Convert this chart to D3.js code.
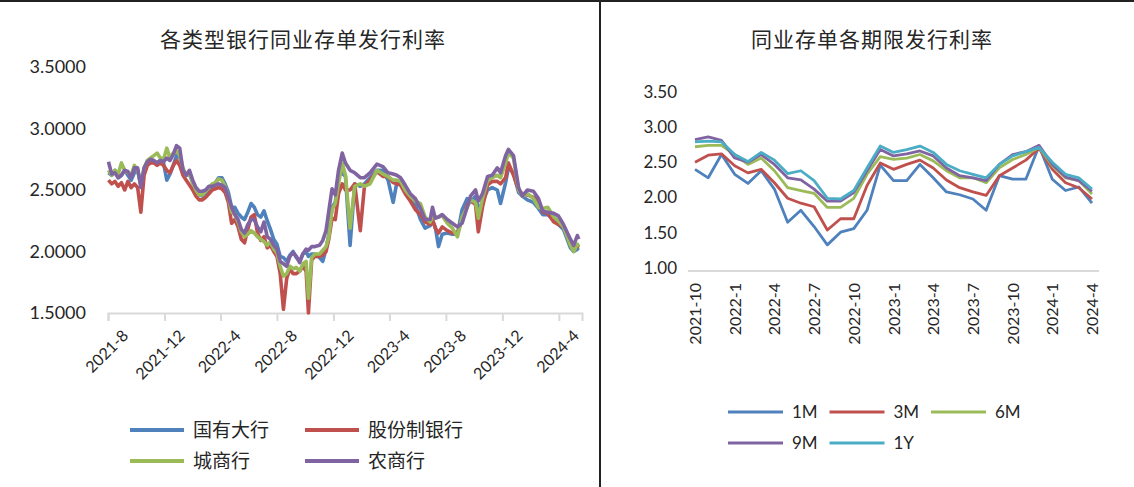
<!DOCTYPE html>
<html>
<head>
<meta charset="utf-8">
<script src="https://cdn.jsdelivr.net/npm/d3@7"></script>
<style>
  body { margin: 0; background: #fff; }
  svg text { font-family: Lato, "Noto Sans CJK SC", sans-serif; fill: #262626; }
  .cjk { font-family: "Noto Sans CJK SC", sans-serif; }
</style>
</head>
<body>
<div id="chart"></div>
<script>
// ---- left panel: issue rates by bank type ----
const bankDates = [
  "2021-08-02","2021-08-09","2021-08-16","2021-08-23","2021-08-30","2021-09-06","2021-09-13","2021-09-20","2021-09-27",
  "2021-10-04","2021-10-11","2021-10-18","2021-10-25","2021-11-01","2021-11-08","2021-11-15","2021-11-22","2021-11-29",
  "2021-12-06","2021-12-13","2021-12-20","2021-12-27","2022-01-03","2022-01-10","2022-01-17","2022-01-24","2022-01-31",
  "2022-02-07","2022-02-14","2022-02-21","2022-02-28","2022-03-07","2022-03-14","2022-03-21","2022-03-28","2022-04-04",
  "2022-04-11","2022-04-18","2022-04-25","2022-05-02","2022-05-09","2022-05-16","2022-05-23","2022-05-30","2022-06-06",
  "2022-06-13","2022-06-20","2022-06-27","2022-07-04","2022-07-11","2022-07-18","2022-07-25","2022-08-01","2022-08-08",
  "2022-08-15","2022-08-22","2022-08-29","2022-09-05","2022-09-12","2022-09-19","2022-09-26","2022-10-03","2022-10-08",
  "2022-10-15","2022-10-22","2022-11-01","2022-11-08","2022-11-15","2022-11-21","2022-11-28","2022-12-05","2022-12-12",
  "2022-12-20","2022-12-27","2023-01-06","2023-01-16","2023-01-28","2023-02-06","2023-02-18","2023-03-05","2023-03-18",
  "2023-03-29","2023-04-09","2023-04-17","2023-04-25","2023-05-05","2023-05-16","2023-05-27","2023-06-07","2023-06-17",
  "2023-06-28","2023-07-03","2023-07-09","2023-07-16","2023-07-24","2023-08-04","2023-08-15","2023-08-26","2023-09-05",
  "2023-09-16","2023-09-23","2023-10-04","2023-10-10","2023-10-19","2023-10-30","2023-11-09","2023-11-20","2023-11-27",
  "2023-12-08","2023-12-14","2023-12-25","2024-01-05","2024-01-13","2024-01-24","2024-02-06","2024-02-17","2024-02-26",
  "2024-03-08","2024-03-21","2024-03-31","2024-04-11","2024-04-26","2024-05-03","2024-05-11","2024-05-14"
];
const bigBank = [
  2.64,2.62,2.66,2.60,2.62,2.66,2.62,2.58,2.64, 2.66,2.54,2.66,2.72,2.74,2.73,2.72,2.74,2.72,
  2.58,2.63,2.70,2.78,2.76,2.66,2.62,2.63,2.56, 2.50,2.46,2.45,2.47,2.50,2.52,2.56,2.60,2.60,
  2.55,2.48,2.36,2.36,2.31,2.28,2.26,2.32,2.39, 2.36,2.30,2.28,2.33,2.25,2.18,2.10,2.06,1.96,
  1.95,1.92,1.97,2.00,1.95,1.92,1.98,2.00,1.96, 1.98,1.98,1.95,1.92,2.02,2.14,2.36,2.40,2.61,
  2.64,2.61,2.05,2.55,2.53,2.55,2.60,2.66,2.66, 2.58,2.40,2.56,2.55,2.50,2.43,2.38,2.26,2.19,
  2.21,2.25,2.20,2.04,2.14,2.15,2.14,2.14,2.34, 2.43,2.40,2.45,2.34,2.40,2.50,2.52,2.50,2.39,
  2.56,2.68,2.64,2.48,2.45,2.42,2.40,2.35,2.30, 2.30,2.26,2.22,2.18,2.03,2.00,2.02,2.01
];
const jointStock = [
  2.58,2.55,2.57,2.53,2.56,2.50,2.57,2.52,2.55, 2.52,2.32,2.62,2.70,2.72,2.72,2.70,2.72,2.70,
  2.66,2.64,2.70,2.74,2.70,2.62,2.58,2.54,2.50, 2.45,2.42,2.42,2.44,2.47,2.50,2.51,2.52,2.51,
  2.48,2.40,2.23,2.26,2.20,2.10,2.07,2.18,2.28, 2.30,2.15,2.09,2.12,2.03,2.05,2.00,1.96,1.82,
  1.53,1.78,1.86,1.82,1.82,1.84,1.88,1.84,1.50, 1.93,1.96,1.96,1.97,2.00,2.10,2.27,2.26,2.47,
  2.55,2.50,2.50,2.55,2.17,2.53,2.58,2.65,2.61, 2.61,2.56,2.55,2.54,2.47,2.41,2.34,2.30,2.24,
  2.22,2.26,2.19,2.15,2.20,2.17,2.15,2.15,2.26, 2.38,2.42,2.38,2.16,2.36,2.54,2.57,2.57,2.55,
  2.60,2.72,2.62,2.50,2.47,2.46,2.44,2.40,2.32, 2.31,2.24,2.22,2.20,2.06,2.02,2.04,2.05
];
const cityBank = [
  2.66,2.62,2.66,2.63,2.72,2.66,2.64,2.62,2.70, 2.66,2.55,2.68,2.74,2.76,2.78,2.80,2.76,2.75,
  2.84,2.76,2.80,2.82,2.78,2.68,2.62,2.64,2.56, 2.50,2.46,2.46,2.49,2.52,2.55,2.56,2.59,2.58,
  2.53,2.44,2.32,2.30,2.24,2.16,2.12,2.14,2.17, 2.15,2.12,2.10,2.08,2.05,2.08,2.02,1.99,1.88,
  1.80,1.82,1.88,1.86,1.87,1.84,1.90,1.92,1.62, 1.95,1.98,1.98,2.01,2.04,2.12,2.34,2.39,2.55,
  2.72,2.62,2.19,2.53,2.55,2.53,2.55,2.66,2.63, 2.61,2.58,2.58,2.57,2.50,2.45,2.41,2.39,2.28,
  2.24,2.28,2.28,2.28,2.29,2.23,2.19,2.12,2.28, 2.36,2.42,2.40,2.27,2.43,2.58,2.60,2.62,2.60,
  2.72,2.80,2.76,2.50,2.45,2.47,2.43,2.36,2.35, 2.36,2.28,2.25,2.20,2.05,2.00,2.06,2.04
];
const ruralBank = [
  2.73,2.63,2.64,2.60,2.62,2.66,2.65,2.60,2.68, 2.68,2.52,2.68,2.73,2.75,2.74,2.72,2.74,2.73,
  2.76,2.74,2.79,2.86,2.84,2.66,2.62,2.66,2.58, 2.52,2.49,2.49,2.50,2.53,2.53,2.54,2.55,2.54,
  2.52,2.44,2.36,2.30,2.26,2.18,2.15,2.22,2.26, 2.26,2.20,2.16,2.24,2.12,2.10,2.05,2.02,1.92,
  1.90,1.88,1.96,1.99,1.96,1.91,1.98,2.02,2.01, 2.04,2.04,2.05,2.09,2.17,2.33,2.51,2.46,2.66,
  2.80,2.72,2.66,2.64,2.60,2.60,2.64,2.71,2.69, 2.64,2.63,2.62,2.60,2.54,2.47,2.43,2.35,2.26,
  2.26,2.36,2.27,2.28,2.30,2.26,2.23,2.20,2.23, 2.36,2.45,2.50,2.41,2.47,2.61,2.62,2.68,2.64,
  2.78,2.83,2.78,2.52,2.45,2.50,2.49,2.43,2.33, 2.32,2.31,2.29,2.22,2.10,2.05,2.13,2.10
];
const bankNames = ["国有大行", "股份制银行", "城商行", "农商行"];
const leftTicks = ["2021-8","2021-12","2022-4","2022-8","2022-12","2023-4","2023-8","2023-12","2024-4"];
const leftYTicks = [1.5, 2.0, 2.5, 3.0, 3.5];

// ---- right panel: issue rates by term ----
const termMonths = [
  "2021-10","2021-11","2021-12","2022-1","2022-2","2022-3","2022-4","2022-5","2022-6","2022-7","2022-8",
  "2022-9","2022-10","2022-11","2022-12","2023-1","2023-2","2023-3","2023-4","2023-5","2023-6","2023-7",
  "2023-8","2023-9","2023-10","2023-11","2023-12","2024-1","2024-2","2024-3","2024-4"
];
const rate1M = [2.44,2.32,2.65,2.37,2.24,2.42,2.16,1.69,1.86,1.63,1.37,1.55,1.60,1.86,2.50,2.28,2.28,2.51,2.32,2.12,2.08,2.02,1.86,2.35,2.30,2.30,2.77,2.30,2.14,2.19,1.96];
const rate3M = [2.54,2.64,2.66,2.49,2.39,2.44,2.25,2.03,1.96,1.91,1.58,1.74,1.74,2.21,2.53,2.44,2.51,2.57,2.46,2.29,2.18,2.12,2.07,2.35,2.46,2.57,2.74,2.44,2.25,2.18,2.02];
const rate6M = [2.76,2.78,2.78,2.65,2.51,2.60,2.42,2.18,2.14,2.10,1.90,1.90,2.03,2.37,2.62,2.58,2.60,2.65,2.56,2.42,2.32,2.32,2.25,2.46,2.58,2.65,2.75,2.49,2.32,2.28,2.09];
const rate9M = [2.86,2.90,2.85,2.60,2.54,2.65,2.51,2.32,2.29,2.16,1.99,1.99,2.11,2.42,2.72,2.63,2.66,2.70,2.63,2.46,2.35,2.32,2.28,2.51,2.65,2.69,2.78,2.51,2.33,2.28,2.13];
const rate1Y = [2.83,2.84,2.83,2.65,2.55,2.68,2.57,2.38,2.42,2.28,2.03,2.02,2.14,2.46,2.77,2.68,2.72,2.77,2.68,2.51,2.42,2.37,2.32,2.51,2.63,2.69,2.75,2.54,2.37,2.32,2.16];
const termNames = ["1M", "3M", "6M", "9M", "1Y"];
const rightTicks = ["2021-10","2022-1","2022-4","2022-7","2022-10","2023-1","2023-4","2023-7","2023-10","2024-1","2024-4"];
const rightYTicks = [1.0, 1.5, 2.0, 2.5, 3.0, 3.5];

const colors = ["#4f81bd", "#c0504d", "#9bbb59", "#8064a2", "#4bacc6"];
const W = 1134, H = 487;

const svg = d3.select("#chart").append("svg")
  .attr("width", W)
  .attr("height", H);

// frame lines
svg.append("line").attr("x1", 0).attr("x2", W).attr("y1", 1).attr("y2", 1)
  .attr("stroke", "#222").attr("stroke-width", 2);
svg.append("line").attr("x1", 600).attr("x2", 600).attr("y1", 0).attr("y2", H)
  .attr("stroke", "#222").attr("stroke-width", 2);

// ===== left chart =====
const parse = d3.timeParse("%Y-%m-%d");
const parseMonth = d3.timeParse("%Y-%m");
const dates = bankDates.map(parse);

const xL = d3.scaleTime()
  .domain([new Date(2021, 7, 1), new Date(2024, 4, 21)])
  .range([108, 582]);
const yL = d3.scaleLinear().domain([1.5, 3.5]).range([313, 67]);

svg.append("text")
  .attr("class", "cjk")
  .attr("x", 303).attr("y", 47)
  .attr("text-anchor", "middle")
  .style("font-size", "21px")
  .style("letter-spacing", "1px")
  .text("各类型银行同业存单发行利率");

// y labels (no axis line)
svg.append("g").selectAll("text")
  .data(leftYTicks)
  .enter().append("text")
  .attr("x", 86)
  .attr("y", d => yL(d) + 6)
  .attr("text-anchor", "end")
  .style("font-size", "18px")
  .text(d => d.toFixed(4));

// x axis
const xAxisL = svg.append("g")
  .attr("transform", "translate(0,313)")
  .call(d3.axisBottom(xL)
    .tickValues(leftTicks.map(parseMonth))
    .tickSize(8)
    .tickFormat(d3.timeFormat("%Y-%-m")));
xAxisL.select(".domain").attr("stroke", "#d9d9d9").attr("stroke-width", 2);
xAxisL.selectAll(".tick line").attr("stroke", "#d9d9d9").attr("stroke-width", 2);
xAxisL.selectAll("text")
  .attr("transform", "translate(5,8)rotate(-45)")
  .style("text-anchor", "end")
  .style("font-size", "16px")
  .style("font-family", "Lato, sans-serif")
  .attr("fill", "#262626");

const leftSeries = [bigBank, jointStock, cityBank, ruralBank];
const lineL = d3.line()
  .x((d, i) => xL(dates[i]))
  .y(d => yL(d));

svg.append("g").selectAll("path")
  .data(leftSeries)
  .enter().append("path")
  .attr("d", d => lineL(d))
  .attr("fill", "none")
  .attr("stroke", (d, i) => colors[i])
  .attr("stroke-width", 3.6)
  .attr("stroke-linejoin", "round");

// left legend
const legL = svg.append("g").selectAll("g")
  .data(bankNames)
  .enter().append("g")
  .attr("transform", (d, i) => "translate(" + (i % 2 === 0 ? 130 : 305) + "," + (i < 2 ? 430 : 461) + ")");
legL.append("line")
  .attr("x1", 0).attr("x2", 54)
  .attr("stroke", (d, i) => colors[i])
  .attr("stroke-width", 4);
legL.append("text")
  .attr("class", "cjk")
  .attr("x", 63).attr("y", 7)
  .style("font-size", "19px")
  .text(d => d);

// ===== right chart =====
const xR = d3.scalePoint().domain(termMonths).range([695, 1092]);
const yR = d3.scaleLinear().domain([1, 3.5]).range([271, 94.5]);

svg.append("text")
  .attr("class", "cjk")
  .attr("x", 872).attr("y", 47)
  .attr("text-anchor", "middle")
  .style("font-size", "21px")
  .style("letter-spacing", "1px")
  .text("同业存单各期限发行利率");

svg.append("g").selectAll("text")
  .data(rightYTicks)
  .enter().append("text")
  .attr("x", 677)
  .attr("y", d => yR(d) + 3)
  .attr("text-anchor", "end")
  .style("font-size", "17px")
  .text(d => d.toFixed(2));

svg.append("line")
  .attr("x1", 688).attr("x2", 1099)
  .attr("y1", 271).attr("y2", 271)
  .attr("stroke", "#d9d9d9").attr("stroke-width", 2);

svg.append("g").selectAll("text")
  .data(rightTicks)
  .enter().append("text")
  .attr("transform", d => "translate(" + (xR(d) + 6) + ",283)rotate(-90)")
  .attr("text-anchor", "end")
  .style("font-size", "16px")
  .text(d => d);

const rightSeries = [rate1M, rate3M, rate6M, rate9M, rate1Y];
const lineR = d3.line()
  .x((d, i) => xR(termMonths[i]))
  .y(d => yR(d));

svg.append("g").selectAll("path")
  .data(rightSeries)
  .enter().append("path")
  .attr("d", d => lineR(d))
  .attr("fill", "none")
  .attr("stroke", (d, i) => colors[i])
  .attr("stroke-width", 2.8)
  .attr("stroke-linejoin", "round");

// right legend
const legR = svg.append("g").selectAll("g")
  .data(termNames)
  .enter().append("g")
  .attr("transform", (d, i) => "translate(" + (728 + (i % 3) * 101.5) + "," + (i < 3 ? 412 : 443) + ")");
legR.append("line")
  .attr("x1", 0).attr("x2", 55)
  .attr("stroke", (d, i) => colors[i])
  .attr("stroke-width", 3);
legR.append("text")
  .attr("x", 64).attr("y", 6)
  .style("font-size", "17px")
  .text(d => d);
</script>
</body>
</html>
